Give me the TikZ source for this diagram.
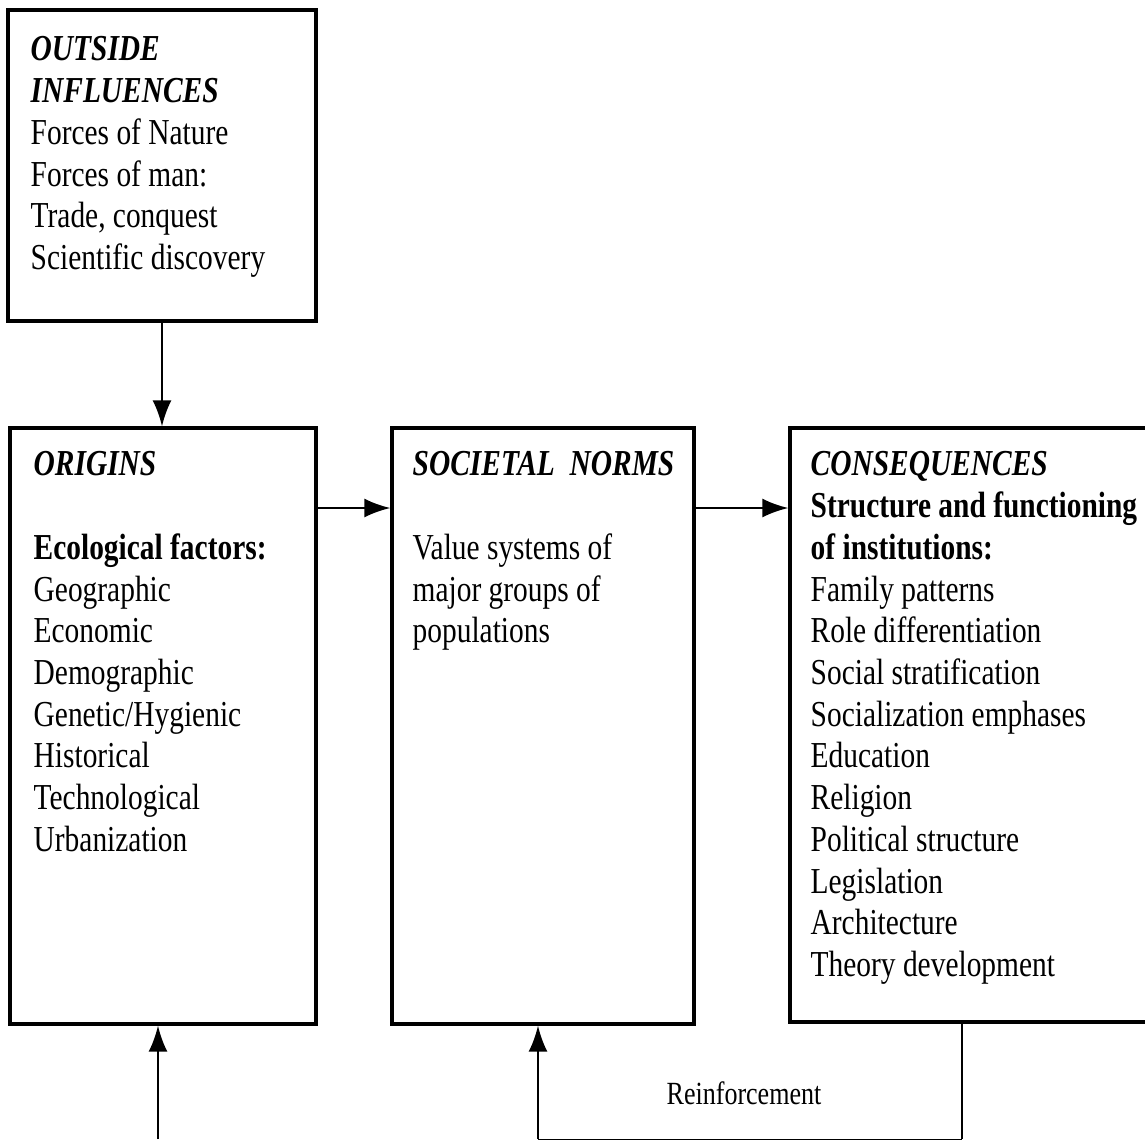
\documentclass[tikz,border=0pt]{standalone}
\usepackage{fontspec}
\setmainfont{Liberation Serif}[FakeStretch=0.805]
\usetikzlibrary{arrows.meta}

\begin{document}
\begin{tikzpicture}
      [
        frame/.style={draw=black,line width=0.9pt,inner sep=0pt},
        entry/.style={anchor=north west,align=left,inner sep=0pt,
          font=\fontsize{10.4}{11.87}\selectfont},
        link/.style={line width=0.7pt,-{Latex[length=2.6mm,width=1.9mm]}}
      ]
      \useasboundingbox (0,0) rectangle (11.45,-11.39);
      % outside influences
      \node [frame,minimum width=3.08cm,minimum height=3.11cm] (outside) at (1.62,-1.655) {};
      \node [entry] (outsidetxt) at (0.30,-0.36) {\textbf{\textit{OUTSIDE}}\\
        \textbf{\textit{INFLUENCES}}\\
        Forces of Nature\\
        Forces of man:\\
        Trade, conquest\\
        Scientific discovery};
      % origins
      \node [frame,minimum width=3.06cm,minimum height=5.96cm] (origins) at (1.63,-7.26) {};
      \node [entry] (originstxt) at (0.33,-4.51) {\textbf{\textit{ORIGINS}}\\[11.87pt]
        \textbf{Ecological factors:}\\
        Geographic\\
        Economic\\
        Demographic\\
        Genetic/Hygienic\\
        Historical\\
        Technological\\
        Urbanization};
      % societal norms
      \node [frame,minimum width=3.02cm,minimum height=5.96cm] (norms) at (5.43,-7.26) {};
      \node [entry] (normstxt) at (4.12,-4.51) {\textbf{\textit{SOCIETAL~~NORMS}}\\[11.87pt]
        Value systems of\\
        major groups of\\
        populations};
      % consequences
      \node [frame,minimum width=3.70cm,minimum height=5.94cm] (conseq) at (9.75,-7.25) {};
      \node [entry] (conseqtxt) at (8.10,-4.51) {\textbf{\textit{CONSEQUENCES}}\\
        \textbf{Structure and functioning}\\
        \textbf{of institutions:}\\
        Family patterns\\
        Role differentiation\\
        Social stratification\\
        Socialization emphases\\
        Education\\
        Religion\\
        Political structure\\
        Legislation\\
        Architecture\\
        Theory development};
      % free ends at the bottom
      \coordinate (foot1) at (1.58,-11.39);
      \coordinate (foot2) at (5.38,-11.39);
      \coordinate (foot3) at (9.62,-11.39);
      \coordinate (low2) at (5.38,-11.395);
      \coordinate (low3) at (9.62,-11.395);
      \node [font=\fontsize{9.2}{11}\selectfont] (reinf) at (7.44,-10.93) {Reinforcement};
      % edges
      \draw [link] (outside.south) -- (outside.south |- origins.north);
      \draw [link] (origins.east |- 0,-5.08) -- (norms.west |- 0,-5.08);
      \draw [link] (norms.east |- 0,-5.08) -- (conseq.west |- 0,-5.08);
      \draw [link] (foot1) -- (foot1 |- origins.south);
      \draw [link] (foot2) -- (foot2 |- norms.south);
      \draw [line width=0.5pt] (foot3 |- conseq.south) -- (foot3);
      \draw [line width=0.5pt] (low2) -- (low3);
    \end{tikzpicture}
\end{document}
